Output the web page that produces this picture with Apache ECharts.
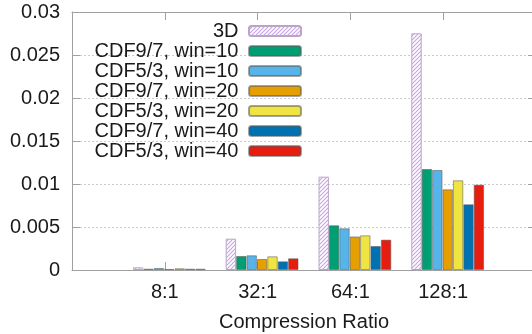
<!DOCTYPE html>
<html>
<head>
<meta charset="utf-8">
<script src="https://cdn.jsdelivr.net/npm/echarts@6/dist/echarts.min.js"></script>
<style>
html,body{margin:0;padding:0;background:#fff;}
#c{width:532px;height:334px;}
</style>
</head>
<body>
<div id="c"></div>
<script>
const categories = ['8:1', '32:1', '64:1', '128:1'];
const seriesNames = ['3D', 'CDF9/7, win=10', 'CDF5/3, win=10', 'CDF9/7, win=20', 'CDF5/3, win=20', 'CDF9/7, win=40', 'CDF5/3, win=40'];
const v3D      = [0.00031, 0.00364, 0.01085, 0.02752];
const cdf97w10 = [0.00015, 0.00163, 0.00520, 0.01174];
const cdf53w10 = [0.00023, 0.00171, 0.00485, 0.01163];
const cdf97w20 = [0.00012, 0.00128, 0.00390, 0.00938];
const cdf53w20 = [0.00020, 0.00159, 0.00403, 0.01043];
const cdf97w40 = [0.00015, 0.00101, 0.00279, 0.00764];
const cdf53w40 = [0.00015, 0.00136, 0.00353, 0.00992];
const yTicks = [0, 0.005, 0.01, 0.015, 0.02, 0.025, 0.03];

const allValues = [v3D, cdf97w10, cdf53w10, cdf97w20, cdf53w20, cdf97w40, cdf53w40];
const colors = [null, '#009e73', '#56b4e9', '#e69f00', '#f0e442', '#0072b2', '#e51e10'];

// hatch pattern for 3D
const pc = document.createElement('canvas');
pc.width = 4; pc.height = 4;
const g = pc.getContext('2d');
g.fillStyle = '#ffffff'; g.fillRect(0, 0, 4, 4);
g.strokeStyle = '#c9a3e3'; g.lineWidth = 1.1;
g.beginPath();
g.moveTo(-1, 5); g.lineTo(5, -1);
g.moveTo(-1, 1); g.lineTo(1, -1);
g.moveTo(3, 5); g.lineTo(5, 3);
g.stroke();

const FONT = 'Liberation Sans';
const BW = 10.4;

const series = [{
  name: 'spacer', type: 'bar', barWidth: 9, barGap: '0%', data: [], silent: true
}];
allValues.forEach((vals, k) => {
  series.push({
    name: seriesNames[k],
    type: 'bar',
    barWidth: BW,
    barGap: '0%',
    data: vals.map((v, i) => [i, v]),
    itemStyle: k === 0
      ? { color: { image: pc, repeat: 'repeat' }, borderColor: '#b9a6c6', borderWidth: 1 }
      : { color: colors[k], borderColor: 'rgba(90,90,90,0.55)', borderWidth: 1 }
  });
});

const axisGray = '#a0a0a0';
function ls() { return { show: true, onZero: false, lineStyle: { color: axisGray, width: 1 } }; }
function ts() { return { show: true, inside: true, length: 8, lineStyle: { color: axisGray } }; }
const chart = echarts.init(document.getElementById('c'), null, { renderer: 'canvas' });
chart.setOption({
  animation: false,
  backgroundColor: '#ffffff',
  textStyle: { fontFamily: FONT },
  grid: { left: 72, right: -4, top: 12, bottom: 64, containLabel: false, outerBoundsMode: 'none' },
  legend: {
    data: seriesNames,
    orient: 'vertical',
    align: 'right',
    right: 225,
    top: 16,
    itemWidth: 52,
    itemHeight: 10,
    itemGap: 0,
    formatter: name => name + ' ',
    textStyle: { fontFamily: FONT, fontSize: 20, color: '#1a1a1a', lineHeight: 20 }
  },
  xAxis: [{
    type: 'value', min: -1, max: 4, interval: 1, position: 'bottom',
    name: 'Compression Ratio', nameLocation: 'middle', nameGap: 42,
    nameTextStyle: { fontFamily: FONT, fontSize: 20, color: '#1a1a1a' },
    axisLine: ls(), axisTick: ts(),
    axisLabel: { fontFamily: FONT, fontSize: 20, color: '#1a1a1a', margin: 12,
      formatter: v => (categories[v] !== undefined ? categories[v] : '') },
    splitLine: { show: false }
  }, {
    type: 'value', min: -1, max: 4, interval: 1, position: 'top',
    axisLine: ls(), axisTick: ts(),
    axisLabel: { show: false },
    splitLine: { show: false }
  }],
  yAxis: [{
    type: 'value', min: 0, max: 0.03, interval: 0.005, position: 'left',
    axisLine: ls(), axisTick: ts(),
    axisLabel: { fontFamily: FONT, fontSize: 20, color: '#1a1a1a', margin: 12,
      formatter: v => { const t = yTicks.find(x => Math.abs(x - v) < 1e-9); return String(t !== undefined ? t : v); } },
    splitLine: { show: true, lineStyle: { color: '#cccccc', type: [2, 2], width: 1 } }
  }, {
    type: 'value', min: 0, max: 0.03, interval: 0.005, position: 'right',
    axisLine: ls(), axisTick: ts(),
    axisLabel: { show: false },
    splitLine: { show: false }
  }],
  series: series
});
</script>
</body>
</html>
